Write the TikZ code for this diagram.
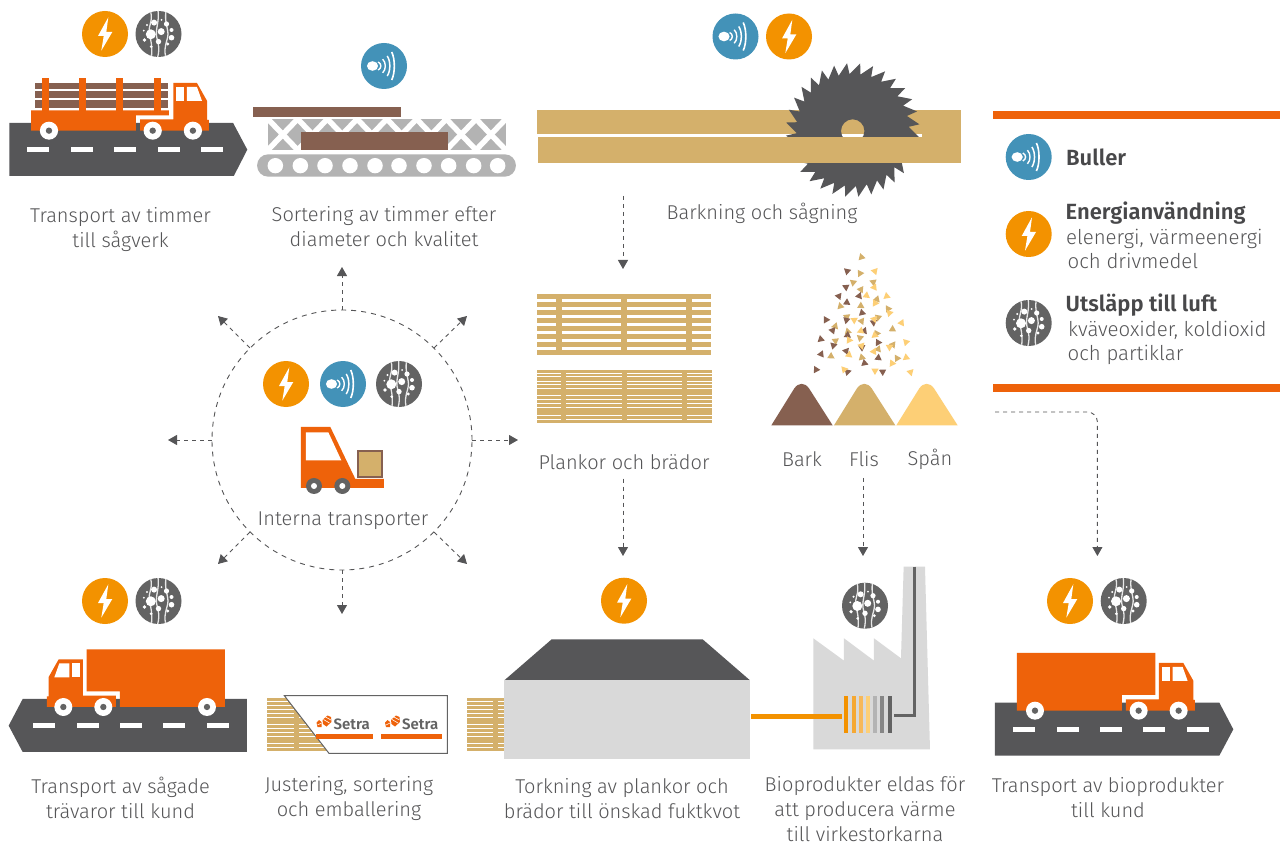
\documentclass[tikz,border=0pt]{standalone}
\usepackage{fontspec}
\setmainfont{Fira Sans}[UprightFont={* Light},BoldFont={* SemiBold}]
\usetikzlibrary{arrows.meta,calc}
\definecolor{cE}{HTML}{F39200}
\definecolor{cN}{HTML}{4392B8}
\definecolor{cU}{HTML}{636363}
\definecolor{cO}{HTML}{EE620A}
\definecolor{cR}{HTML}{565658}
\definecolor{cB}{HTML}{866050}
\definecolor{cT}{HTML}{D4B06B}
\definecolor{cY}{HTML}{FDCF76}
\definecolor{cG}{HTML}{B3B3B3}
\definecolor{cL}{HTML}{D9D9D9}
\definecolor{cX}{HTML}{555557}
\tikzset{
  lab/.style={text=cX,align=center,inner sep=0pt,font=\fontsize{20}{25}\selectfont},
  legh/.style={text=cX!85!black,anchor=base west,inner sep=0pt,font=\fontsize{22}{25}\selectfont\bfseries},
  legt/.style={text=cX,anchor=base west,inner sep=0pt,font=\fontsize{20.4}{25}\selectfont},
  flow/.style={draw=cX,line width=.9pt,dash pattern=on 4pt off 4pt,-{Triangle[length=9pt,width=10pt]}},
  zz/.style={x=.33333pt,y=-.33333pt},
  zy/.style={x=.33784pt,y=-.33333pt},
}
% icons
\newcommand{\iconE}[2]{\begin{scope}[shift={(#1,#2)}]
  \fill[cE] (0,0) circle (23);
  \fill[white] (3.3,-16.7)--(-7,2)--(-1.3,2)--(-3.7,16.7)--(7.3,-2)--(1.3,-2)--cycle;
\end{scope}}
\newcommand{\iconN}[2]{\begin{scope}[shift={(#1,#2)}]
  \fill[cN] (0,0) circle (23);
  \fill[white] (-11.5,0) ellipse (5.6 and 4.8);
  \foreach \a/\h/\w in {-3.2/4/1.4,1.3/6.8/1.4,5.8/10/1.5,10.3/14/1.6}
    \draw[white,line width=\w pt] (\a-2.6,-\h) .. controls (\a+.9,-\h/2) and (\a+.9,\h/2) .. (\a-2.6,\h);
\end{scope}}
\newcommand{\iconU}[2]{\begin{scope}[shift={(#1,#2)}]
  \fill[cU] (0,0) circle (23);
  \begin{scope}
  \clip (0,0) circle (23);
  \draw[white!85!cU,line width=1.3pt] (-8,-23) .. controls (-5,-12) and (-11,-8) .. (-9,0) .. controls (-8,6) and (-6,10) .. (-7,23);
  \draw[white!85!cU,line width=1.3pt] (-.5,-24) .. controls (1,-12) and (-3,-6) .. (-2,2) .. controls (-1,9) and (2,12) .. (-1,24);
  \draw[white!85!cU,line width=1.3pt] (7.5,-23) .. controls (6,-12) and (9,-8) .. (9.5,0) .. controls (9,8) and (5,12) .. (7,22);
  \end{scope}
  \foreach \x/\y/\r in {-7.7/.3/5,2.7/-2.4/3.5,-4.4/-11.4/3,8/-10/2.6,13/-4/2,13/3.7/2.8,0/7.6/2.7,-14/6/1.8,9.3/10/1.6,-11.5/-9/1.2,-14.7/-3.3/1,3/-14/1,-7.3/12.7/1.5}
    \fill[white] (\x,\y) circle (\r);
\end{scope}}
\newcommand{\dashesR}[3]{\foreach \d in {#3}{\fill[white] (\d,#1) rectangle (\d+66,#2);}}
\newcommand{\wheel}[2]{\fill[white] (#1,#2) circle (27); \fill[cU] (#1,#2) circle (9.5);}
% box truck, drawn in the coordinates of the lower right one
\newcommand{\boxtruck}[1]{\begin{scope}[zz,#1]
  \fill[cR] (30,398)--(703,398)--(745,478)--(703,557)--(30,557)--cycle;
  \dashesR{471}{486}{84,216,345,474,606}
  \fill[cO] (96,249)--(511,249)--(511,375)--(411,375)--(411,422)--(96,422)--cycle;
  \fill[cO] (423,388)--(522,388)--(522,279)--(595,279)--(625,332)--(625,390)--(630,390)--(630,422)--(423,422)--cycle;
  \fill[white] (531,291) rectangle (555,333);
  \fill[white] (563,291)--(593,291)--(608,333)--(563,333)--cycle;
  \wheel{150}{422}\wheel{461}{422}\wheel{581}{422}
\end{scope}}
% thin-board stack lines
\newcommand{\whitelines}[3]{\foreach \y in {370,381,394,405,417,438,450,462,474,496,508}{\fill[white] (#1,\y-1.5-360+#3) rectangle (#2,\y+1.5-360+#3);}}
\newcommand{\logoS}[2]{\begin{scope}[shift={(#1,#2)}]
  \fill[cO] (0,4.5)--(2.5,2)--(5,4)--(5,9)--(1,9)--cycle;
  \fill[cO] (6,2)--(11,-2.5)--(14.5,-1)--(15,4)--(10,8.5)--(6.5,6)--cycle;
  \draw[white,line width=.6pt] (7,1.5)--(13,5) (9,-1)--(14.5,2) (1,7)--(5,5);
  \node[anchor=base west,inner sep=0pt,text=cU,font=\fontsize{15}{15}\selectfont\bfseries] at (17,11) {Setra};
\end{scope}}
\begin{document}
\begin{tikzpicture}[x=1pt,y=-1pt]
\useasboundingbox (0,0) rectangle (1280,845);
\fill[white] (0,0) rectangle (1280,845);
% ---- log truck and conveyor
\begin{scope}[zy]
  \fill[cR] (28,369)--(690,369)--(732,449)--(692,528)--(28,528)--cycle;
  \foreach \d/\e in {80/145,210/275,337/402,467/533,595/660}{\fill[white] (\d,441) rectangle (\e,456);}
  \fill[cB] (104,249) rectangle (497,267);
  \fill[cB] (104,273) rectangle (497,295);
  \fill[cB] (104,301) rectangle (497,325);
  \foreach \d in {125,234,344,456}{\fill[cO] (\d,235) rectangle (\d+21,335);}
  \fill[cO] (92,331)--(500,331)--(500,346)--(402,346)--(402,392)--(92,392)--cycle;
  \fill[cO] (415,358)--(513,358)--(513,249)--(583,249)--(613,303)--(613,360)--(618,360)--(618,392)--(415,392)--cycle;
  \fill[white] (521,260) rectangle (544,303);
  \fill[white] (553,261)--(583,261)--(598,303)--(553,303)--cycle;
  \wheel{145}{392}\wheel{452}{392}\wheel{571}{392}
  % conveyor
  \fill[cB] (748,321) rectangle (1186,351);
  \begin{scope}
    \clip (793,357) rectangle (1497,450);
    \fill[cG] (793,357) rectangle (1497,450);
    \foreach \k in {0,...,7}{
      \draw[white,line width=5.5pt] (793+88*\k,357)--(793+88*\k+88,450);
      \draw[white,line width=5.5pt] (793+88*\k+88,357)--(793+88*\k,450);}
  \end{scope}
  \fill[cB] (890,395) rectangle (1327,450);
  \fill[cG,rounded corners=11pt] (761,463) rectangle (1527,530);
  \foreach \d in {815,889,962,1036,1110,1181,1255,1328,1402,1473}{\fill[white] (\d,497) circle (23);}
\end{scope}
% ---- saw
\fill[cT] (537,110) rectangle (961,134.3);
\fill[cT] (922,134) rectangle (961,138);
\fill[cR,even odd rule] ($(852.7,130)+(-3.25:56)$) \foreach \i in {0,...,31}{ -- ($(852.7,130)+({\i*11.25+6.4}:67)$) -- ($(852.7,130)+({\i*11.25+8}:56)$)} -- cycle (852.7,131) circle (11.7);
\fill[cT] (537.7,137.3) rectangle (961,162.7);
% ---- plank stacks
\begin{scope}[zz,shift={(1590,750)}]
  \foreach \y in {132,156,180,204,228,252,276,300}{\fill[cT] (21,\y) rectangle (543,\y+15);}
  \foreach \d in {78,273,468}{\fill[cT] (\d,132) rectangle (\d+18,315);}
  \fill[cT] (21,360) rectangle (546,519);
  \whitelines{21}{93}{360}\whitelines{108}{276}{360}\whitelines{291}{456}{360}\whitelines{471}{546}{360}
  % particles
  \foreach \x/\y/\c [count=\n] in {994/22/cT,991/70/cT,969/97/cT,1030/97/cT,993/118/cT,1040/148/cT,993/168/cT,931/168/cT,1074/177/cT,1045/202/cT,950/200/cT,995/214/cT,916/228/cT,1087/238/cT,954/245/cT,1040/250/cT,990/264/cT,917/272/cT,1088/284/cT,1045/298/cT,903/318/cT,995/323/cT,1102/325/cT,
  951/63/cB,948/112/cB,927/138/cB,987/138/cB,951/158/cB,996/188/cB,888/210/cB,950/210/cB,1030/217/cB,908/242/cB,1003/242/cB,952/256/cB,873/268/cB,1044/277/cB,910/287/cB,996/292/cB,948/303/cB,874/313/cB,1045/323/cB,1003/340/cB,859/359/cB,952/365/cB,1058/366/cB,
  1035/63/cY,1032/112/cY,1010/137/cY,1070/138/cY,1035/160/cY,1079/189/cY,972/210/cY,1033/208/cY,1115/218/cY,992/243/cY,1035/256/cY,957/270/cY,1128/277/cY,1079/291/cY,994/287/cY,1032/305/cY,957/314/cY,1128/323/cY,1087/340/cY,942/358/cY,1035/363/cY,1142/366/cY}{
    \pgfmathsetmacro{\ang}{mod(\n*137,360)}
    \fill[\c,rotate around={\ang:(\x,\y)}] (\x,\y-12)--(\x+11,\y+7)--(\x-11,\y+7)--cycle;}
  % piles
  \foreach \o/\c in {0/cB,188/cT,375/cY}{
    \fill[\c] (724+\o,526)--(793+\o,415) .. controls (806+\o,397) and (824+\o,397) .. (837+\o,415)--(908+\o,526)--cycle;}
\end{scope}
% ---- forklift
\begin{scope}[zz,shift={(600,900)}]
  \fill[cO] (303,381)--(391,381)--(466,537)--(552,537)--(552,564)--(303,564)--cycle;
  \fill[white] (318,397)--(385,397)--(424,481)--(318,481)--cycle;
  \fill[cB] (471,450) rectangle (549,533);
  \fill[cT] (477,456) rectangle (543,527);
  \foreach \d in {342,427}{\fill[cU] (\d,558) circle (24);\fill[white] (\d,558) circle (9);}
\end{scope}
% ---- bottom row
\boxtruck{shift={(2955,1710)}}
\boxtruck{shift={(771,1699)},xscale=-1}
\begin{scope}[zz,shift={(0,1890)}]
  \fill[cT] (801,205) rectangle (1000,362);
  \whitelines{801}{882}{205}\whitelines{896}{1000}{205}
  \fill[white,draw=cU,line width=1pt] (853,197)--(1342,197)--(1342,370)--(987,370)--cycle;
  \fill[cO] (948,312) rectangle (1118,326);
  \fill[cO] (1143,312) rectangle (1326,326);
\end{scope}
\logoS{316.5}{718}
\logoS{385}{718}
\begin{scope}[zz,shift={(1380,1680)}]
  \fill[cT] (21,415) rectangle (132,572);
  \whitelines{21}{99}{415}\whitelines{114}{132}{415}
  \fill[cR] (275,238)--(728,238)--(870,361)--(133,361)--cycle;
  \fill[cL] (133,361) rectangle (870,598);
  \fill[cL] (1060,235)--(1152,302)--(1152,235)--(1242,302)--(1242,235)--(1323,295)--(1331,20)--(1395,20)--(1410,568)--(1060,568)--cycle;
  \draw[cU,line width=3.3pt] (1363,20)--(1363,467)--(1302,467);
  \fill[cE] (872,462) rectangle (1146,476);
  \foreach \d/\c in {1152/cE,1176/cE!80!white,1197/cE!65!white,1218/cY,1239/cG,1260/cG!75!black,1284/cU}{\fill[\c] (\d,408) rectangle (\d+12,519);}
\end{scope}
% ---- legend
\fill[cO] (993,111) rectangle (1280,119);
\fill[cO] (993,384) rectangle (1280,392);
\iconN{1028.7}{157}
\iconE{1028.7}{234}
\iconU{1028.7}{323}
\node[legh] (lb) at (1066,166) {Buller};
\node[legh] (le) at (1065.5,220) {Energianvändning};
\node[legt] (le1) at (1066,244) {elenergi, värmeenergi};
\node[legt] (le2) at (1067.5,269) {och drivmedel};
\node[legh] (lu) at (1065.5,311) {Utsläpp till luft};
\node[legt] (lu1) at (1068,336) {kväveoxider, koldioxid};
\node[legt] (lu2) at (1067.5,360) {och partiklar};
% ---- icons
\iconE{105}{34}\iconU{158.5}{34}\iconN{384}{66}
\iconN{735.5}{36.5}\iconE{789}{36.5}
\iconE{286}{384}\iconN{343}{384}\iconU{399}{384}
\iconE{105}{601}\iconU{158.5}{601}
\iconE{624}{600.7}\iconU{865}{605.7}
\iconE{1070}{601}\iconU{1123.7}{601}
% ---- labels
\node[lab] (t1) at (120.5,229.5) {Transport av timmer\\till sågverk};
\node[lab] (t2) at (384,227) {Sortering av timmer efter\\diameter och kvalitet};
\node[lab] (t3) at (762,213) {Barkning och sågning};
\node[lab] (pl) at (624,462) {Plankor och brädor};
\node[lab] (ba) at (802,459) {Bark};
\node[lab] (fl) at (864,459) {Flis};
\node[lab] (sp) at (930,459) {Spån};
\node[lab] (in) at (343,520.5) {Interna transporter};
\node[lab] (b1) at (120.5,798) {Transport av sågade\\trävaror till kund};
\node[lab] (b2) at (349,798.5) {Justering, sortering\\och emballering};
\node[lab] (b3) at (622,798.5) {Torkning av plankor och\\brädor till önskad fuktkvot};
\node[lab] (b4) at (865,809) {Bioprodukter eldas för\\att producera värme\\till virkestorkarna};
\node[lab] (b5) at (1108,797.5) {Transport av bioprodukter\\till kund};
% ---- connectors
\node[circle,draw=cX,line width=.9pt,dash pattern=on 5pt off 5pt,minimum size=260pt,inner sep=0pt] (hub) at (342,440) {};
\coordinate (aN) at (342,267);\coordinate (aS) at (342,614);\coordinate (aW) at (168,440);\coordinate (aE) at (518,440);
\coordinate (aNE) at (467,316);\coordinate (aNW) at (218,316);\coordinate (aSW) at (218,564);\coordinate (aSE) at (467,564);
\foreach \d/\c in {90/aN,270/aS,180/aW,0/aE,45/aNE,135/aNW,225/aSW,315/aSE}{\draw[flow] (hub.\d)--(\c);}
\coordinate (s1) at (623,196);\coordinate (e1) at (623,269);
\draw[flow] (s1)--(e1);
\coordinate (e2) at (623,556);
\draw[flow] (pl.south -| e2)++(0,9)--(e2);
\coordinate (e3) at (863,556);
\draw[flow] (fl.south -| e3)++(0,11)--(e3);
\coordinate (s4) at (995,412);\coordinate (e4) at (1097.4,556);
\draw[flow,rounded corners=10pt] (s4)--(1097.4,412)--(e4);
\end{tikzpicture}
\end{document}
